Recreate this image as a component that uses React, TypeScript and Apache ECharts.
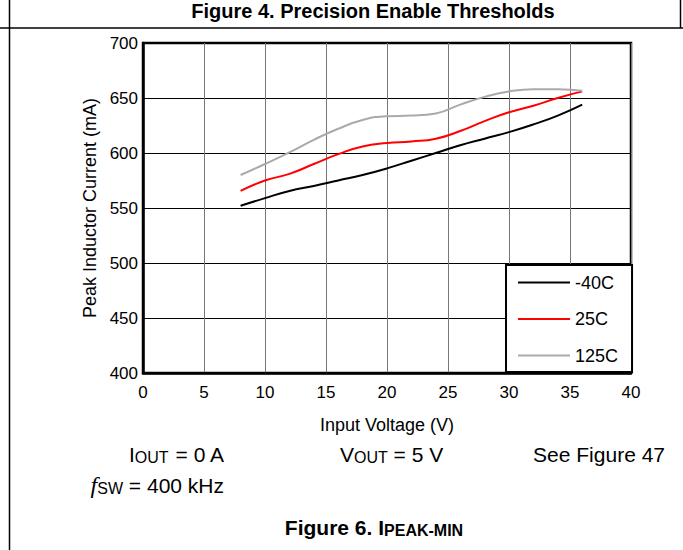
import React, { useEffect, useRef } from "react";
import * as echarts from "echarts";

const voltages = [8, 10, 12, 14, 16, 18, 20, 22, 24, 26, 28, 30, 32, 34, 36];
const currentMinus40 = [552, 559, 565.5, 570, 575, 580, 586, 593, 600, 607, 613, 619, 626, 634, 644];
const current25 = [565.5, 575, 581, 590, 599, 606, 609, 610.5, 613, 620, 629, 637, 643, 650, 656];
const current125 = [580, 590, 600.5, 612, 622, 630, 633.5, 634, 636, 644, 651, 656, 658, 658, 656.5];
const seriesNames = ["-40C", "25C", "125C"];
const seriesColors = ["#000000", "#ff0000", "#aaaaaa"];

const FONT = "'Liberation Sans', Arial, sans-serif";

export default function App() {
  const ref = useRef<HTMLDivElement>(null);

  useEffect(() => {
    document.body.style.margin = "0";
    if (!ref.current) return;
    const chart = echarts.init(ref.current, undefined, { renderer: "svg" });
    const valueSets = [currentMinus40, current25, current125];

    const main = (size: number, extra: any = {}) => ({
      fontSize: size,
      fontFamily: FONT,
      color: "#000",
      lineHeight: 22,
      ...extra,
    });

    const option: any = {
      animation: false,
      backgroundColor: "#ffffff",
      textStyle: { fontFamily: FONT },
      grid: {
        left: 143,
        top: 43,
        right: 52,
        bottom: 177,
        show: true,
        borderColor: "#000",
        borderWidth: 2.5,
      },
      xAxis: {
        type: "value",
        min: 0,
        max: 40,
        interval: 5,
        name: "Input Voltage (V)",
        nameLocation: "middle",
        nameGap: 43,
        nameTextStyle: { fontSize: 18, color: "#000", fontFamily: FONT },
        axisLine: { show: true, lineStyle: { color: "#000", width: 2.5 } },
        axisTick: { show: false },
        axisLabel: { fontSize: 17, color: "#000", margin: 11, fontFamily: FONT },
        splitLine: { show: true, lineStyle: { color: "#777", width: 1 } },
      },
      yAxis: {
        type: "value",
        min: 400,
        max: 700,
        interval: 50,
        name: "Peak Inductor Current (mA)",
        nameLocation: "middle",
        nameGap: 44,
        nameTextStyle: { fontSize: 18, color: "#000", fontFamily: FONT },
        axisLine: { show: true, lineStyle: { color: "#000", width: 2.5 } },
        axisTick: { show: false },
        axisLabel: { fontSize: 17, color: "#000", margin: 5, fontFamily: FONT },
        splitLine: { show: true, lineStyle: { color: "#000", width: 1 } },
      },
      legend: {
        orient: "vertical",
        left: 506,
        top: 265,
        itemWidth: 52,
        itemHeight: 14,
        itemGap: 18.5,
        padding: [8.5, 14, 7.5, 11],
        backgroundColor: "#ffffff",
        borderColor: "#000",
        borderWidth: 2,
        itemStyle: { opacity: 0 },
        textStyle: { fontSize: 18, color: "#000", fontFamily: FONT },
        data: seriesNames,
      },
      series: seriesNames.map((name, i) => ({
        name,
        type: "line",
        smooth: true,
        symbol: "none",
        data: voltages.map((v, j) => [v, valueSets[i][j]]),
        lineStyle: { color: seriesColors[i], width: 2 },
        itemStyle: { color: seriesColors[i] },
      })),
      graphic: [
        { type: "line", shape: { x1: 9.5, y1: 0, x2: 9.5, y2: 550 }, style: { stroke: "#000", lineWidth: 1.5 } },
        { type: "line", shape: { x1: 0, y1: 28, x2: 683, y2: 28 }, style: { stroke: "#000", lineWidth: 1.5 } },
        { type: "line", shape: { x1: 680.5, y1: 0, x2: 680.5, y2: 28 }, style: { stroke: "#000", lineWidth: 1.5 } },
        {
          type: "text",
          x: 373,
          y: 11,
          style: {
            text: "Figure 4. Precision Enable Thresholds",
            fill: "#000",
            font: `bold 20px ${FONT}`,
            align: "center",
            verticalAlign: "middle",
          },
        },
        {
          type: "text",
          x: 224,
          y: 454,
          style: {
            text: "{a|I}{s|OUT}{a| = 0 A}",
            align: "right",
            verticalAlign: "middle",
            rich: {
              a: main(21),
              s: main(16, { lineHeight: 12, verticalAlign: "bottom" }),
            },
          },
        },
        {
          type: "text",
          x: 224,
          y: 485,
          style: {
            text: "{f|f}{s|SW}{a| = 400 kHz}",
            align: "right",
            verticalAlign: "middle",
            rich: {
              a: main(21),
              f: main(24, { fontFamily: "'Liberation Serif', serif", fontStyle: "italic" }),
              s: main(16, { lineHeight: 16, verticalAlign: "bottom" }),
            },
          },
        },
        {
          type: "text",
          x: 340,
          y: 454,
          style: {
            text: "{a|V}{s|OUT}{a| = 5 V}",
            align: "left",
            verticalAlign: "middle",
            rich: {
              a: main(21),
              s: main(16, { lineHeight: 12, verticalAlign: "bottom" }),
            },
          },
        },
        {
          type: "text",
          x: 665,
          y: 454,
          style: {
            text: "{a|See }{b|Figure 47}",
            align: "right",
            verticalAlign: "middle",
            rich: {
              a: main(21),
              b: main(21, { color: "#0000ff" }),
            },
          },
        },
        {
          type: "text",
          x: 374,
          y: 527,
          style: {
            text: "{a|Figure 6. I}{s|PEAK-MIN}",
            align: "center",
            verticalAlign: "middle",
            rich: {
              a: main(21, { fontWeight: "bold" }),
              s: main(16, { fontWeight: "bold", lineHeight: 14, verticalAlign: "bottom" }),
            },
          },
        },
      ],
    };

    chart.setOption(option);
    return () => chart.dispose();
  }, []);

  return (
    <div
      ref={ref}
      style={{ position: "absolute", left: 0, top: 0, width: 683, height: 550 }}
    />
  );
}
